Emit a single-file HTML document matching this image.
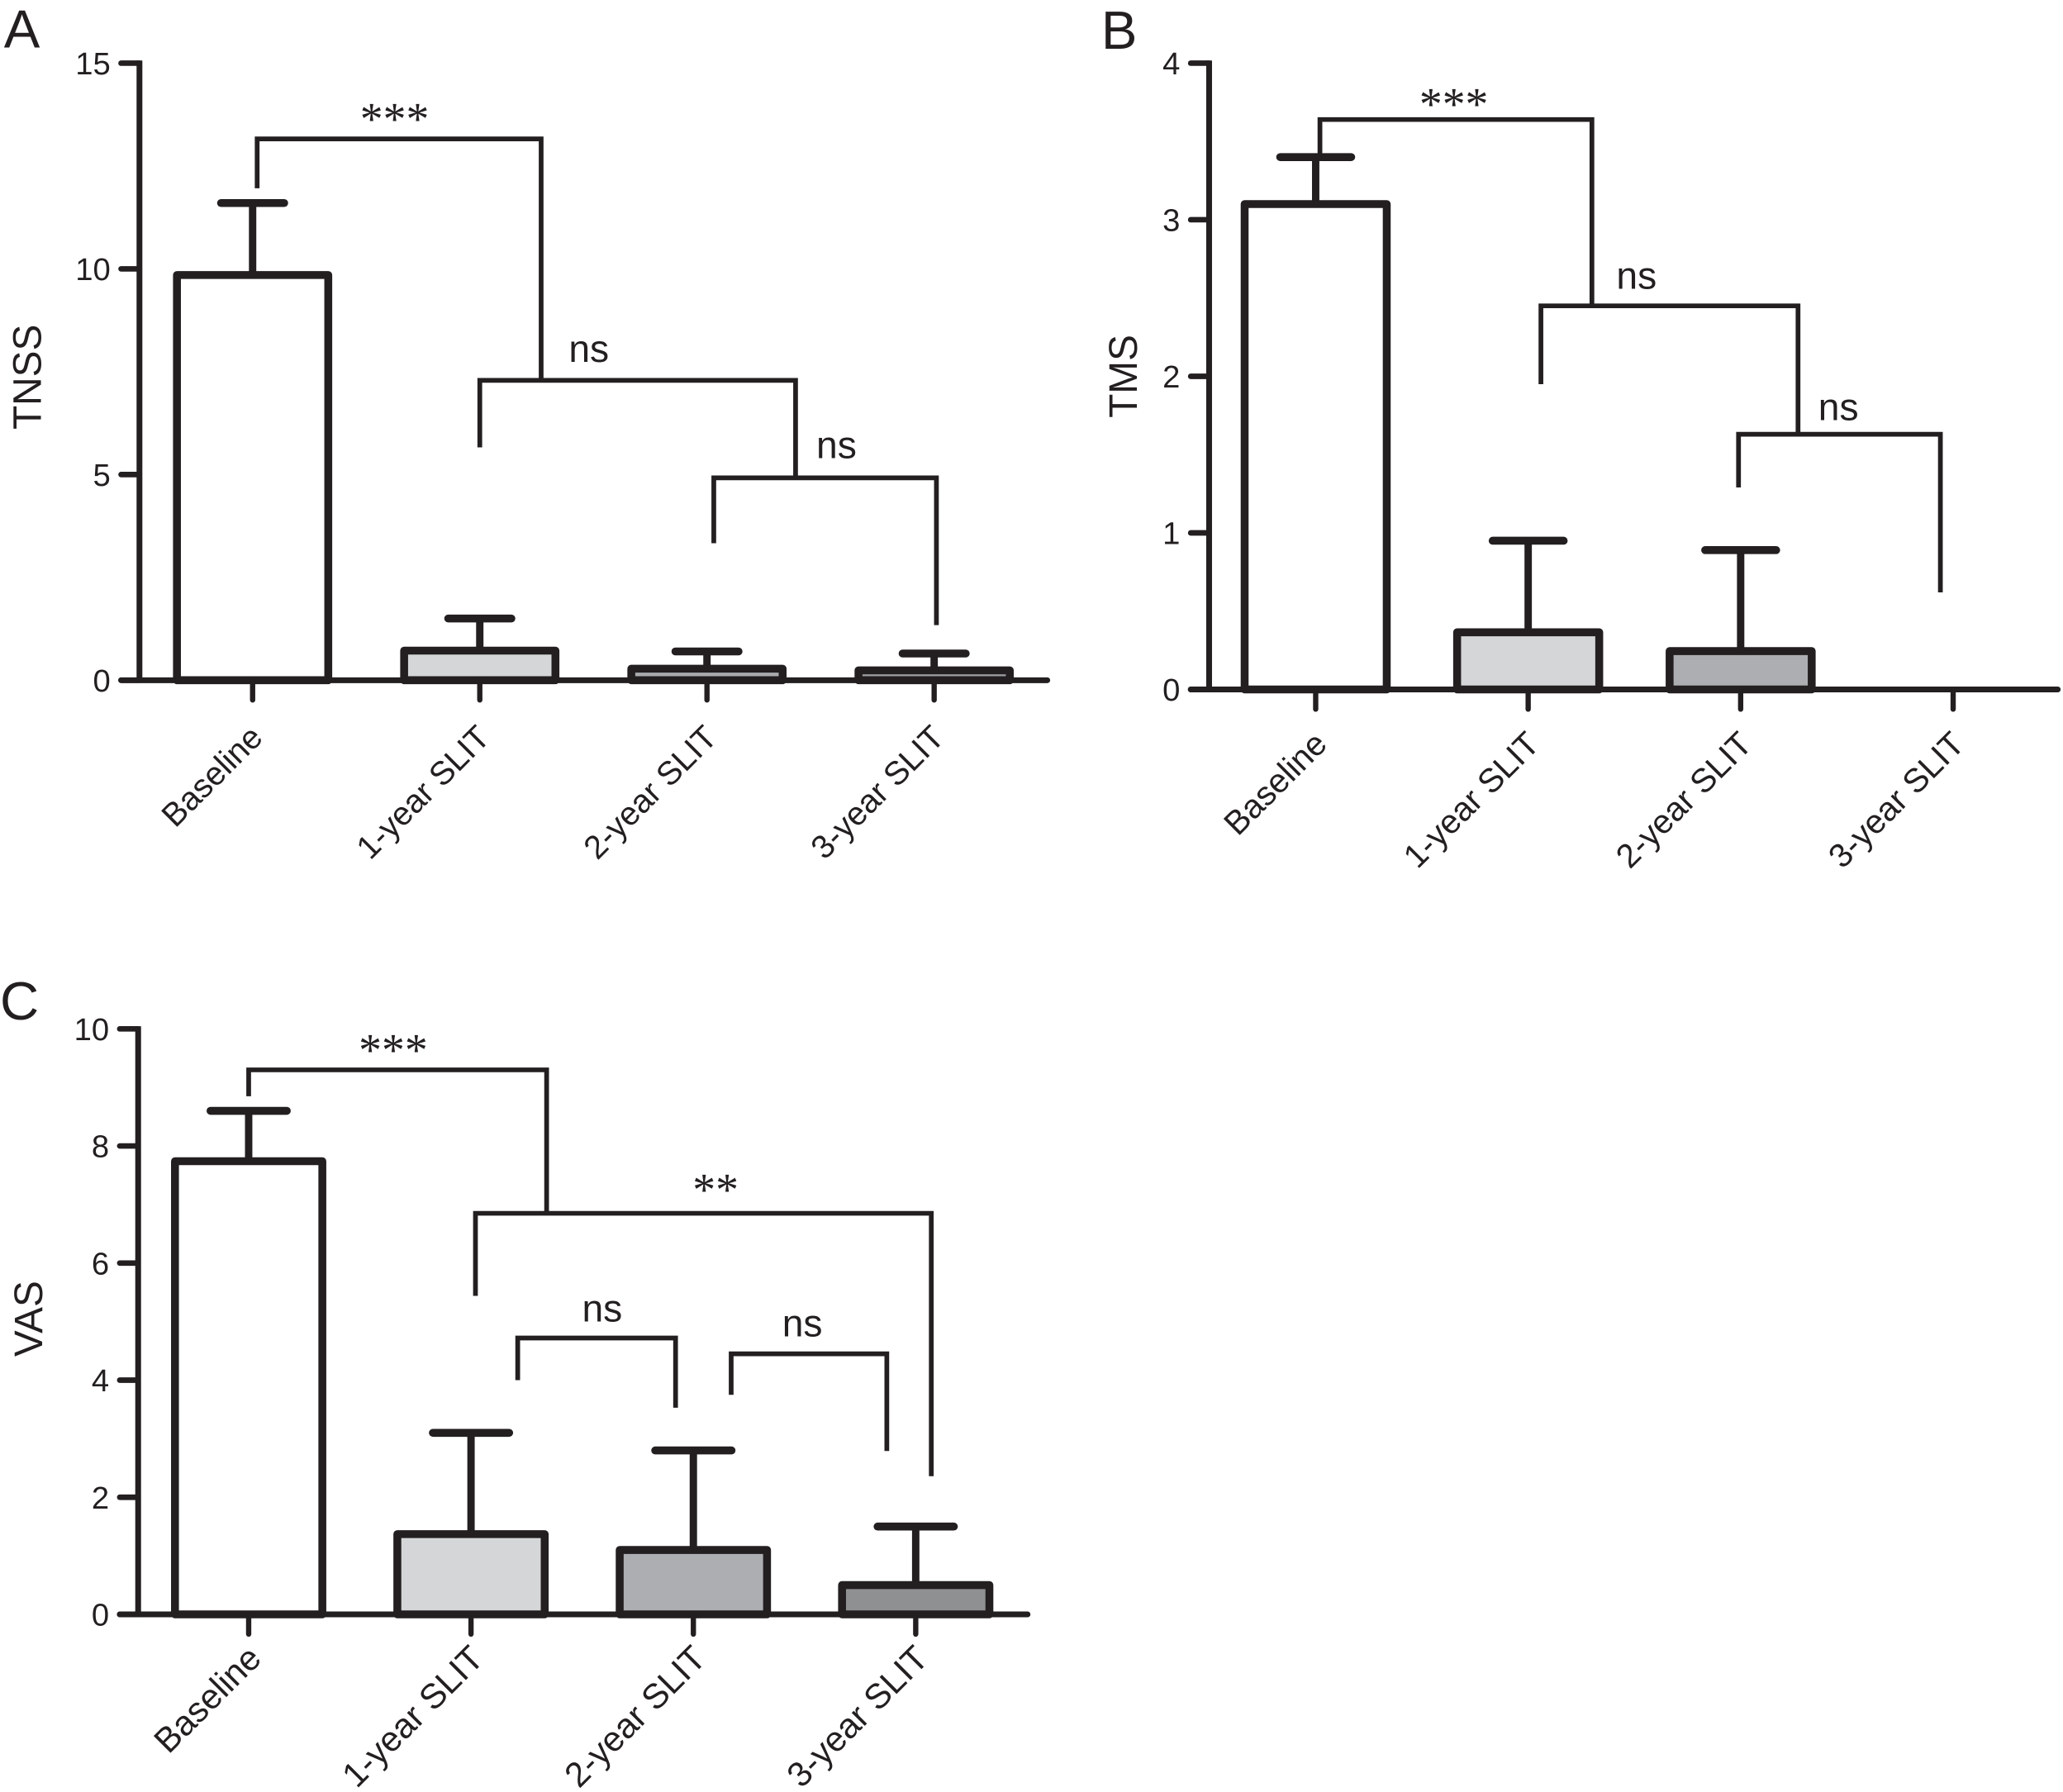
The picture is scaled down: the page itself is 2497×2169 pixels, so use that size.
<!DOCTYPE html>
<html lang="en">
<head>
<meta charset="utf-8">
<title>TNSS, TMS and VAS scores during SLIT</title>
<style>
html,body{margin:0;padding:0;background:#fff;}
svg{display:block;}
text{font-family:"Liberation Sans",sans-serif;fill:#231f20;}
</style>
</head>
<body>
<svg id="chart" xmlns="http://www.w3.org/2000/svg" width="2497" height="2169" viewBox="0 0 1568 1362"></svg>
<script>
// Shared categories
const categories = ['Baseline', '1-year SLIT', '2-year SLIT', '3-year SLIT'];

// Panel A: TNSS
const tnssTicks = [0, 5, 10, 15];
const tnssMeans = [9.85, 0.72, 0.28, 0.24];
const tnssErrorTops = [11.6, 1.5, 0.7, 0.65];
const tnssFills = ['#ffffff', '#d5d6d8', '#a9abae', '#999a9d'];
// bracket: left category pos, left end value, top value, right category pos, right end value
const tnssBrackets = [
  [0.02, 11.96, 13.16, 1.27, 7.29],
  [1.00, 5.66, 7.29, 2.39, 4.96],
  [2.03, 3.33, 4.92, 3.01, 1.34]
];
// annotation: text, category pos, baseline value
const tnssNotes = [
  ['***', 0.625, 13.27],
  ['ns', 1.48, 7.74],
  ['ns', 2.57, 5.40]
];

// Panel B: TMS
const tmsTicks = [0, 1, 2, 3, 4];
const tmsMeans = [3.1, 0.365, 0.245, 0];
const tmsErrorTops = [3.4, 0.95, 0.89, 0];
const tmsFills = ['#ffffff', '#d5d6d8', '#adaeb1', '#8f9092'];
const tmsBrackets = [
  [0.02, 3.41, 3.64, 1.30, 2.45],
  [1.06, 1.95, 2.45, 2.27, 1.63],
  [1.99, 1.29, 1.63, 2.94, 0.62]
];
const tmsNotes = [
  ['***', 0.65, 3.64],
  ['ns', 1.51, 2.56],
  ['ns', 2.46, 1.72]
];

// Panel C: VAS
const vasTicks = [0, 2, 4, 6, 8, 10];
const vasMeans = [7.74, 1.37, 1.1, 0.5];
const vasErrorTops = [8.6, 3.1, 2.8, 1.5];
const vasFills = ['#ffffff', '#d5d6d8', '#adaeb1', '#8f9092'];
const vasBrackets = [
  [0.00, 8.85, 9.30, 1.34, 6.88],
  [1.02, 5.44, 6.85, 3.07, 2.36],
  [1.21, 4.00, 4.72, 1.92, 3.53],
  [2.17, 3.75, 4.45, 2.87, 2.79]
];
const vasNotes = [
  ['***', 0.65, 9.38],
  ['**', 2.10, 6.99],
  ['ns', 1.59, 5.00],
  ['ns', 2.49, 4.75]
];

const INK = '#231f20';
const NS = 'http://www.w3.org/2000/svg';
const root = document.getElementById('chart');

function add(parent, tag, name, attrs, content) {
  const el = document.createElementNS(NS, tag);
  
  
  for (const k in attrs) el.setAttribute(k, attrs[k]);
  if (content !== undefined) el.textContent = content;
  parent.appendChild(el);
  return el;
}

function drawPanel(cfg) {
  const g = add(root, 'g', 'panel-' + cfg.letter.toLowerCase(), {});
  const yMax = cfg.ticks[cfg.ticks.length - 1];
  const yScale = v => cfg.y0 - (v / yMax) * (cfg.y0 - cfg.yTop);
  const xScale = i => cfg.x0 + i * cfg.step;

  add(g, 'text', 'panel-letter-' + cfg.letter.toLowerCase(),
    {x: cfg.letterX, y: cfg.letterY, 'font-size': 41}, cfg.letter);
  const titleY = (yScale(cfg.titleAt));
  add(g, 'text', 'y-axis-title',
    {transform: 'translate(' + cfg.titleX + ',' + titleY + ') rotate(-90)', 'text-anchor': 'middle', 'font-size': 30}, cfg.title);

  // Bars
  cfg.means.forEach((m, i) => {
    if (m <= 0) return;
    const cx = xScale(i);
    add(g, 'line', 'error-stem-' + i,
      {x1: cx, x2: cx, y1: yScale(m), y2: yScale(cfg.errs[i]), stroke: INK, 'stroke-width': 5.6});
    add(g, 'line', 'error-cap-' + i,
      {x1: cx - cfg.capHalf, x2: cx + cfg.capHalf, y1: yScale(cfg.errs[i]), y2: yScale(cfg.errs[i]), stroke: INK, 'stroke-width': 6, 'stroke-linecap': 'round'});
    add(g, 'rect', 'bar-' + i,
      {x: cx - cfg.barHalf, y: yScale(m), width: cfg.barHalf * 2, height: cfg.y0 - yScale(m),
       fill: cfg.fills[i], stroke: INK, 'stroke-width': 6, 'stroke-linejoin': 'round'});
  });

  // Axes
  add(g, 'line', 'y-axis', {x1: cfg.axisX, x2: cfg.axisX, y1: cfg.yTop - 2, y2: cfg.y0, stroke: INK, 'stroke-width': 4.4});
  add(g, 'line', 'x-axis', {x1: cfg.axisX - 14, x2: cfg.axisEnd, y1: cfg.y0, y2: cfg.y0, stroke: INK, 'stroke-width': 4.4, 'stroke-linecap': 'round'});
  cfg.ticks.forEach(t => {
    add(g, 'line', 'y-tick-' + t, {x1: cfg.axisX - 14, x2: cfg.axisX, y1: yScale(t), y2: yScale(t), stroke: INK, 'stroke-width': 4.2, 'stroke-linecap': 'round'});
    add(g, 'text', 'y-tick-label-' + t, {x: cfg.axisX - 22, y: yScale(t) + 8.5, 'text-anchor': 'end', 'font-size': 24}, String(t));
  });
  categories.forEach((c, i) => {
    const cx = xScale(i);
    add(g, 'line', 'x-tick-' + i, {x1: cx, x2: cx, y1: cfg.y0, y2: cfg.y0 + 15, stroke: INK, 'stroke-width': 4, 'stroke-linecap': 'round'});
    add(g, 'text', 'x-tick-label-' + i,
      {transform: 'translate(' + (cx + cfg.labelDx) + ',' + (cfg.y0 + cfg.labelDy) + ') rotate(-45)', 'text-anchor': 'end', 'font-size': cfg.labelSize}, c);
  });

  // Significance brackets
  cfg.brackets.forEach((b, i) => {
    const d = 'M' + xScale(b[0]) + ' ' + yScale(b[1]) + 'V' + yScale(b[2]) + 'H' + xScale(b[3]) + 'V' + yScale(b[4]);
    add(g, 'path', 'significance-bracket-' + i, {d: d, fill: 'none', stroke: INK, 'stroke-width': 3.6});
  });
  cfg.notes.forEach((n, i) => {
    const isStar = n[0].charAt(0) === '*';
    const attrs = {x: xScale(n[1]), y: yScale(n[2]), 'text-anchor': 'middle', 'font-size': isStar ? 35 : 29};
    if (isStar) attrs.style = 'font-family:"Liberation Serif",serif';
    add(g, 'text', 'significance-label-' + i, attrs, n[0]);
  });
}

drawPanel({
  letter: 'A', letterX: 3, letterY: 36, title: 'TNSS', titleX: 31, titleAt: 7.37,
  ticks: tnssTicks, means: tnssMeans, errs: tnssErrorTops, fills: tnssFills,
  brackets: tnssBrackets, notes: tnssNotes,
  x0: 192, step: 172.67, yTop: 48, y0: 517, axisX: 106, axisEnd: 796,
  barHalf: 57.5, capHalf: 24, labelDx: 9, labelDy: 45, labelSize: 25
});
drawPanel({
  letter: 'B', letterX: 837, letterY: 37, title: 'TMS', titleX: 864, titleAt: 2.0,
  ticks: tmsTicks, means: tmsMeans, errs: tmsErrorTops, fills: tmsFills,
  brackets: tmsBrackets, notes: tmsNotes,
  x0: 1000, step: 161.5, yTop: 48, y0: 524, axisX: 919, axisEnd: 1564,
  barHalf: 54, capHalf: 27, labelDx: 10, labelDy: 43, labelSize: 25.5
});
drawPanel({
  letter: 'C', letterX: 0, letterY: 775, title: 'VAS', titleX: 32, titleAt: 5.05,
  ticks: vasTicks, means: vasMeans, errs: vasErrorTops, fills: vasFills,
  brackets: vasBrackets, notes: vasNotes,
  x0: 189, step: 169, yTop: 782, y0: 1227, axisX: 105, axisEnd: 781,
  barHalf: 56, capHalf: 29, labelDx: 11, labelDy: 35, labelSize: 26.5
});
</script>
</body>
</html>
